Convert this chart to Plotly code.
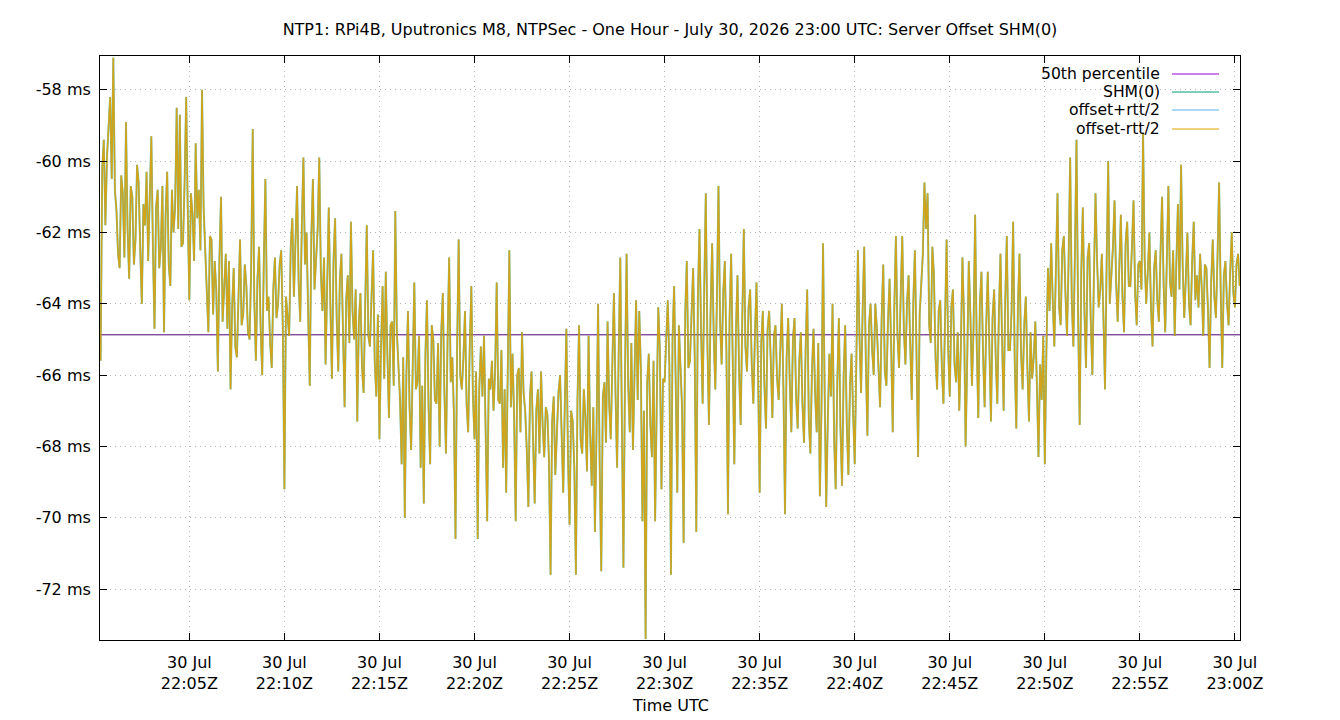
import pandas as pd
import plotly.graph_objects as go

# ---------------- data ----------------
start_time = "2026-07-30 22:00:20"
sample_step = "5s"

# samples at :00/:10/:20... seconds (peaks and troughs of the trace)
offset_ms = [
    # 22:00:20 - 22:10:10
    -65.6, -59.4, -59.9, -58.2, -57.1, -61.4, -63.0, -60.9, -58.9, -63.3,
    -61.0, -62.2, -60.6, -64.0, -61.8, -62.8, -59.3, -64.7, -60.8, -62.4,
    -64.8, -60.3, -63.5, -62.0, -58.5, -58.7, -62.3, -58.2, -63.9, -61.5,
    -59.5, -60.8, -58.0, -62.6, -64.8, -62.2, -62.8, -65.9, -61.0, -63.7,
    -64.7, -66.4, -63.0, -65.5, -62.2, -64.3, -63.5, -65.0, -59.1, -65.6,
    -62.4, -66.0, -60.5, -63.8, -65.8, -62.7, -64.0, -62.5, -69.2, -64.3,
    # 22:10:20 - 22:20:10
    -62.4, -63.8, -60.7, -64.5, -59.9, -62.0, -66.3, -60.5, -62.6, -59.9,
    -64.2, -65.7, -61.3, -66.1, -61.6, -65.9, -62.6, -66.9, -63.2, -61.7,
    -65.0, -67.3, -63.7, -66.5, -61.8, -65.2, -62.5, -66.6, -67.8, -63.5,
    -63.1, -67.2, -64.5, -61.4, -65.8, -68.5, -70.0, -64.2, -68.1, -63.4,
    -66.2, -68.6, -69.6, -63.9, -68.5, -65.0, -66.8, -68.0, -63.7, -68.2,
    -62.7, -65.5, -70.6, -62.2, -66.4, -64.2, -67.6, -63.5, -67.8, -70.6,
    # 22:20:20 - 22:30:10
    -65.2, -64.9, -70.1, -66.4, -67.0, -63.4, -66.8, -68.6, -69.3, -62.5,
    -65.4, -70.1, -65.8, -64.8, -67.0, -69.7, -65.9, -69.6, -66.4, -65.9,
    -68.3, -67.1, -71.6, -66.6, -67.8, -66.0, -69.3, -64.7, -70.2, -67.3,
    -71.6, -64.6, -68.2, -67.2, -64.9, -69.1, -70.4, -64.0, -71.5, -66.2,
    -64.5, -67.8, -63.7, -68.6, -62.7, -71.4, -62.6, -67.6, -68.1, -63.9,
    -64.2, -70.1, -73.4, -65.4, -68.3, -70.1, -64.1, -69.2, -66.2, -63.9,
    # 22:30:20 - 22:40:10
    -71.6, -63.5, -69.3, -65.8, -70.7, -62.8, -65.6, -63.0, -70.4, -61.9,
    -66.8, -60.9, -67.4, -62.3, -66.4, -60.7, -65.7, -62.8, -69.9, -62.6,
    -68.5, -63.2, -67.4, -61.9, -65.9, -63.6, -66.8, -63.4, -69.3, -64.2,
    -67.5, -64.2, -67.2, -64.6, -66.7, -64.0, -69.9, -64.4, -67.6, -64.4,
    -67.5, -64.8, -67.9, -63.6, -68.2, -64.7, -67.6, -69.4, -62.3, -69.7,
    -65.4, -64.0, -69.2, -64.4, -69.1, -64.6, -68.8, -65.4, -68.5, -62.5,
    # 22:40:20 - 22:50:10
    -66.5, -62.4, -67.7, -64.0, -66.0, -64.7, -66.9, -62.9, -66.3, -63.3,
    -67.6, -62.1, -65.8, -62.1, -65.7, -63.2, -66.7, -62.5, -68.3, -63.5,
    -60.6, -60.9, -65.1, -63.2, -66.4, -63.9, -66.8, -62.2, -66.6, -63.6,
    -66.2, -67.0, -62.7, -68.0, -62.8, -66.3, -61.5, -67.2, -63.1, -66.9,
    -63.1, -67.3, -63.6, -66.8, -62.6, -67.0, -62.1, -65.3, -61.7, -67.5,
    -62.6, -66.4, -63.8, -67.3, -66.1, -64.5, -68.3, -66.7, -68.5, -63.0,
    # 22:50:20 - 23:00:10
    -62.3, -65.2, -60.9, -64.6, -62.1, -64.9, -59.9, -65.2, -59.4, -67.4,
    -61.3, -65.8, -62.3, -66.0, -60.9, -64.1, -62.6, -66.4, -60.0, -63.3,
    -61.1, -64.5, -61.5, -64.8, -61.7, -63.5, -61.1, -64.6, -62.8, -59.2,
    -64.0, -62.0, -65.2, -62.5, -64.5, -61.0, -64.8, -60.7, -63.8, -64.9,
    -61.2, -60.1, -64.4, -62.0, -64.6, -61.7, -63.2, -62.6, -64.9, -63.0,
    -65.8, -62.2, -64.4, -60.6, -65.8, -62.8, -64.6, -62.0, -64.1, -62.6,
    -63.3,
]

# samples 5 s after each of the above (the dense core band of the trace)
offset_between_ms = [
    -60.2, -61.8, -58.8, -60.5, -60.8, -62.6, -60.4, -62.7, -61.9, -60.7,
    -62.9, -60.1, -62.5, -61.2, -60.3, -61.0, -62.4, -61.3, -63.0, -60.7,
    -61.5, -62.9, -60.8, -61.3, -61.9, -62.4, -60.6, -61.4, -60.9, -62.8,
    -61.6, -62.5, -61.3, -63.8, -62.1, -64.3, -63.6, -62.7, -64.5, -62.6,
    -62.8, -64.1, -65.2, -63.4, -64.6, -62.9, -64.8, -63.1, -63.9, -63.3,
    -64.7, -62.8, -64.2, -65.1, -63.6, -64.4, -62.9, -64.7, -63.8, -64.9,
    -61.6, -62.2, -63.4, -61.8, -62.9, -64.3, -62.1, -63.6, -61.9, -63.1,
    -62.7, -63.5, -64.0, -62.8, -64.4, -63.3, -64.8, -63.9, -65.1, -64.2,
    -63.6, -64.5, -65.8, -64.0, -64.9, -63.8, -65.6, -64.3, -65.2, -66.1,
    -65.4, -64.6, -66.3, -64.8, -66.7, -65.5, -66.0, -66.9, -65.3, -66.4,
    -64.9, -66.3, -65.4, -66.9, -64.6, -66.7, -65.1, -64.8, -66.5, -65.0,
    -66.2, -67.1, -65.3, -66.0, -65.5, -66.8, -65.2, -66.6, -65.9, -66.4,
    -66.6, -67.5, -66.1, -65.6, -65.9, -66.7, -65.3, -66.4, -65.8, -66.9,
    -67.2, -66.0, -67.6, -66.5, -68.1, -66.6, -67.9, -67.0, -68.2, -67.4,
    -66.9, -68.4, -67.3, -68.8, -66.5, -67.9, -66.8, -68.3, -67.0, -68.6,
    -66.7, -67.8, -66.4, -68.7, -67.6, -66.9, -67.7, -68.5, -66.6, -67.9,
    -66.8, -65.7, -66.5, -65.4, -67.2, -65.9, -66.3, -65.1, -66.0, -66.7,
    -65.8, -67.0, -66.2, -67.4, -65.6, -66.9, -65.3, -66.1, -65.0, -65.7,
    -65.0, -66.2, -64.6, -66.9, -64.3, -65.8, -64.1, -65.5, -63.8, -64.7,
    -63.6, -65.1, -64.2, -64.9, -63.9, -64.5, -63.7, -65.3, -64.4, -65.6,
    -64.8, -65.9, -64.5, -65.2, -64.1, -65.7, -64.9, -66.0, -65.1, -66.3,
    -64.7, -65.6, -64.9, -66.1, -65.3, -66.4, -65.5, -66.2, -65.0, -66.6,
    -65.6, -66.8, -65.3, -67.2, -65.9, -66.5, -65.1, -67.0, -66.4, -67.3,
    -66.6, -67.8, -66.2, -67.5, -66.0, -67.4, -66.3, -67.1, -65.7, -64.9,
    -64.2, -65.6, -64.6, -65.3, -64.0, -65.8, -64.4, -65.9, -64.5, -65.2,
    -64.1, -64.9, -63.8, -64.7, -64.0, -65.1, -63.9, -65.4, -64.3, -62.6,
    -61.9, -64.6, -62.4, -65.5, -64.2, -65.8, -64.5, -65.3, -64.1, -65.7,
    -64.8, -65.2, -64.4, -65.6, -64.3, -64.7, -65.1, -64.0, -65.4, -64.6,
    -65.2, -64.4, -65.5, -64.3, -65.0, -63.9, -65.3, -64.2, -65.6, -64.1,
    -65.4, -64.6, -65.8, -64.8, -65.5, -66.3, -65.7, -64.9, -65.3, -64.2,
    -63.9, -63.0, -64.1, -62.5, -63.7, -62.8, -63.9, -62.6, -64.3, -63.1,
    -64.2, -62.7, -64.5, -63.2, -62.8, -63.6, -64.4, -62.9, -64.0, -62.4,
    -63.4, -62.6, -63.8, -62.3, -63.5, -62.4, -63.7, -62.9, -63.6, -62.7,
    -63.1, -64.1, -63.0, -63.9, -62.6, -63.5, -62.8, -63.4, -62.5, -62.9,
    -63.6, -62.9, -63.3, -64.0, -62.8, -63.9, -64.1, -63.5, -62.9, -64.2,
    -63.4, -63.8, -62.7, -63.6, -63.2, -64.0, -63.1, -63.7, -62.9, -63.5,
]

p50_ms = -64.87

y_ticks = [-72, -70, -68, -66, -64, -62, -60, -58]
x_tick_times = ["22:05", "22:10", "22:15", "22:20", "22:25", "22:30",
                "22:35", "22:40", "22:45", "22:50", "22:55", "23:00"]
x_range = ["2026-07-30 22:00:18", "2026-07-30 23:00:16"]
y_range = [-73.43, -57.05]

title = "NTP1: RPi4B, Uputronics M8, NTPSec - One Hour - July 30, 2026 23:00 UTC: Server Offset SHM(0)"
legend_names = ["50th percentile", "SHM(0)", "offset+rtt/2", "offset-rtt/2"]
colors = ["#9400d3", "#009e73", "#56b4e9", "#e69f00"]

# ---------------- series ----------------
shm_ms = []
for a, b in zip(offset_ms, offset_between_ms + [None]):
    shm_ms.append(a)
    if b is not None:
        shm_ms.append(b)
plus_rtt_ms = shm_ms    # offset + rtt/2 (rtt ~ 0 for a refclock)
minus_rtt_ms = shm_ms   # offset - rtt/2

times = pd.date_range(start_time, periods=len(shm_ms), freq=sample_step)
FONT = "DejaVu Sans"

fig = go.Figure()
fig.add_trace(go.Scatter(x=x_range, y=[p50_ms, p50_ms], mode="lines",
                         line=dict(color="#50007a", width=1), showlegend=False))
fig.add_trace(go.Scatter(x=times, y=shm_ms, mode="lines",
                         line=dict(color=colors[1], width=1.9), opacity=0.6, showlegend=False))
fig.add_trace(go.Scatter(x=times, y=plus_rtt_ms, mode="lines",
                         line=dict(color=colors[2], width=1.9), opacity=0.15, showlegend=False))
fig.add_trace(go.Scatter(x=times, y=minus_rtt_ms, mode="lines",
                         line=dict(color=colors[3], width=1.5), opacity=0.85, showlegend=False))

tickvals = [pd.Timestamp("2026-07-30 " + t) for t in x_tick_times]
ticktext = ["30 Jul<br>" + t + "Z" for t in x_tick_times]

axis_common = dict(showline=True, linecolor="black", linewidth=1, mirror="allticks",
                   ticks="inside", ticklen=7, tickcolor="black", tickwidth=1,
                   showgrid=True, gridcolor="#b4b4b4", griddash="1px,4px", gridwidth=1,
                   zeroline=False, tickfont=dict(family=FONT, size=16, color="black"))

fig.update_xaxes(range=x_range, tickmode="array", tickvals=tickvals, ticktext=ticktext,
                 ticklabelstandoff=8, **axis_common)
fig.update_yaxes(range=y_range, tickmode="array", tickvals=y_ticks,
                 ticktext=[f"{v} ms" for v in y_ticks], ticklabelstandoff=5, **axis_common)


def px(xp):
    return (xp - 100) / 1140.0


def py(yp):
    return (640 - yp) / 584.0


# gnuplot-like key: text right-justified, sample on the right
shapes = [dict(type="rect", xref="paper", yref="paper", x0=px(1012), x1=px(1237),
               y0=py(140), y1=py(62), fillcolor="white", line=dict(width=0), layer="between")]
annotations = []
rows = [74, 92, 110, 129]
for name, col, yy in zip(legend_names, colors, rows):
    annotations.append(dict(text=name, xref="paper", yref="paper", x=px(1162), y=py(yy),
                            xanchor="right", yanchor="middle", showarrow=False,
                            font=dict(family=FONT, size=15.6, color="black")))
    shapes.append(dict(type="line", xref="paper", yref="paper", x0=px(1172), x1=px(1219),
                       y0=py(yy), y1=py(yy), line=dict(color=col, width=1), layer="above"))

annotations.append(dict(text="Time UTC", xref="paper", yref="paper", x=px(670), y=py(706),
                        xanchor="center", yanchor="middle", showarrow=False,
                        font=dict(family=FONT, size=16, color="black")))

fig.update_layout(
    width=1340, height=720,
    margin=dict(l=100, r=100, t=56, b=80),
    paper_bgcolor="white", plot_bgcolor="white",
    title=dict(text=title, x=0.5, xanchor="center", y=1 - 29 / 720, yanchor="middle",
               xref="paper", font=dict(family=FONT, size=16, color="black")),
    showlegend=False,
    shapes=shapes, annotations=annotations,
)

fig.write_html("out.html")
